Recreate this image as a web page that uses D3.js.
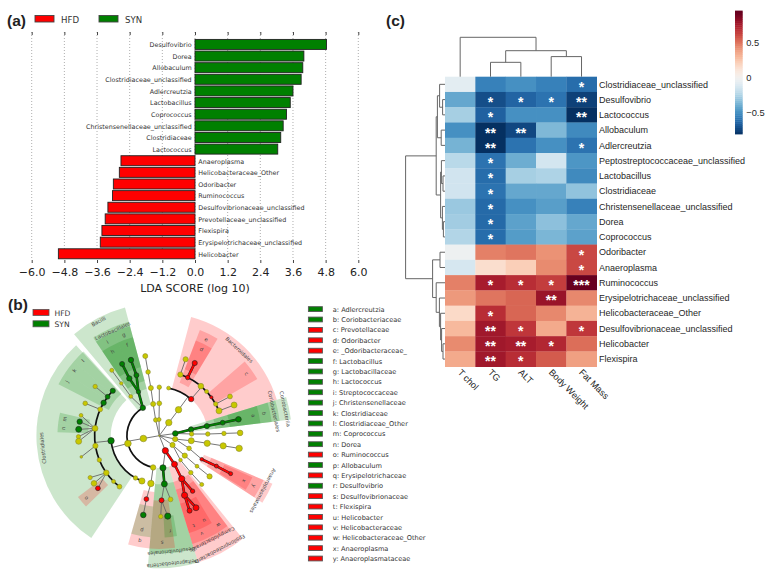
<!DOCTYPE html>
<html><head><meta charset="utf-8">
<script src="https://cdnjs.cloudflare.com/ajax/libs/d3/7.8.5/d3.min.js"></script>
<style>html,body{margin:0;padding:0;background:#fff}svg{display:block}</style>
</head><body><svg id="c" width="770" height="574"></svg>
<script>
// ---- panel (a)
const ldaNames=["Desulfovibrio","Dorea","Allobaculum","Clostridiaceae_unclassified","Adlercreutzia","Lactobacillus","Coprococcus","Christensenellaceae_unclassified","Clostridiaceae","Lactococcus","Anaeroplasma","Helicobacteraceae_Other","Odoribacter","Ruminococcus","Desulfovibrionaceae_unclassified","Prevotellaceae_unclassified","Flexispira","Erysipelotrichaceae_unclassified","Helicobacter"];
const ldaValues=[4.83,4.0,3.96,3.9,3.6,3.5,3.36,3.24,3.15,3.04,-2.72,-2.78,-3.0,-3.03,-3.2,-3.3,-3.42,-3.48,-5.02];
const ldaTicks=[-6,-4.8,-3.6,-2.4,-1.2,0,1.2,2.4,3.6,4.8,6];
// ---- panel (b) legend
const cladeLegend=[["a: Adlercreutzia","g"],["b: Coriobacteriaceae","g"],["c: Prevotellaceae","r"],["d: Odoribacter","r"],["e: _Odoribacteraceae_","r"],["f: Lactobacillus","g"],["g: Lactobacillaceae","g"],["h: Lactococcus","g"],["i: Streptococcaceae","g"],["j: Christensenellaceae","g"],["k: Clostridiaceae","g"],["l: Clostridiaceae_Other","g"],["m: Coprococcus","g"],["n: Dorea","g"],["o: Ruminococcus","r"],["p: Allobaculum","g"],["q: Erysipelotrichaceae","r"],["r: Desulfovibrio","g"],["s: Desulfovibrionaceae","r"],["t: Flexispira","r"],["u: Helicobacter","r"],["v: Helicobacteraceae","r"],["w: Helicobacteraceae_Other","r"],["x: Anaeroplasma","r"],["y: Anaeroplasmataceae","r"]];
// shaded clades: angle from, angle to (deg clockwise from north), level from, level to, class, letter
const cladeSectors=[
[213.6,317.4,3,7.6,"g",""],[320,345,2,8.2,"g",""],[326,345,3,7.3,"g",""],
[326,336,3.5,7,"g","i"],[336,345,3.5,7,"g","g"],[326,336,4.4,6.3,"g","h"],[336,345,4.4,6.3,"g","f"],
[297,304,3.5,7,"g","j"],[304,311,3.5,7,"g","k"],[311,318,3.5,7,"g","l"],
[277,283,4.4,6.3,"g","m"],[272,277,4.4,6.3,"g","n"],[226,233,4.4,6.3,"r","o"],
[185,196,3.5,7,"r","q"],[185,196,4.4,6.3,"g","p"],
[163,185,2,8.2,"g",""],[163,185,3,7.3,"g",""],[172,185,4,7,"r","s"],[170,177,5,6.3,"g","r"],
[141,163,2,8.2,"r",""],[143,163,3,7.3,"r",""],[150,163,3.5,7,"r","v"],[143,150,3.5,7,"r","w"],[155,163,4.4,6.3,"r","t"],[149,155,4.4,6.3,"r","u"],
[113,123,3,7.6,"r",""],[113,123,3.5,7,"r","y"],[114,122,4.4,6.3,"r","x"],
[15,73,3,7.6,"r",""],[49,60,4,7,"r","c"],[21,31,3.5,7,"r","e"],[21,31,4.4,6.3,"r","d"],
[73,83,2,8.2,"g",""],[73,83,3,7.5,"g",""],[73,83,3.5,7,"g","b"],[73,83,4.4,6.3,"g","a"]];
const cladeLabels=[["Bacilli",332,8],["Lactobacillales",336,7.1],["Clostridiales",264,7.25],["Bacteroidales",43,7.25],["Coriobacteriales",78,7.25],["Coriobacteriia",78,7.95],["Anaeroplasmatales",118,7.25],["Campylobacterales",153,7.2],["Epsilonproteobacteria",152,7.95],["Desulfovibrionales",174,7.2],["Deltaproteobacteria",174,7.95]];
// thick arcs joining siblings: level, angle from, angle to, parent id
const cladeArcs=[[2,191,329,"L1h"],[3,201,264,"k1"],[4,218,314,"k2"],[4,19,67.4,"c3"],[3,11,41,"c1"]];
// nodes: id, parent id, angle, level, class (y/r/g), size
const cladeNodes=[
["root",null,0,0,"y",.7],
["L1a","root",347,1,"y",2.2],["L1b","root",359,1,"y",2],["L1c","root",36,1,"y",3.2],["L1d","root",82,1,"g",2.8],["L1e","root",102,1,"y",2.6],["L1f","root",125,1,"y",2.6],["L1g","root",158,1,"r",3.1],["L1h","root",260,1,"y",3.3],
["a1","L1a",349,2,"y",2.5],["a2","a1",350,3,"y",2.5],["a3","a2",350,4,"y",2.3],["a4","a3",350,5,"y",2.5],
["b1","L1b",0,2,"y",2.4],["b2","b1",0,3,"y",2.2],
["c1","L1c",36.5,2,"y",3.2],["c2","c1",11,3,"y",1.9],["c3","c1",41,3,"r",2.7],
["c4","c3",19,4,"y",2.6],["c5","c3",26,4,"r",2.2],["c6","c3",40,4,"y",2.8],["c7","c3",47,4,"y",2],["c8","c3",53.6,4,"r",1.6],["c9","c3",60.7,4,"y",2.2],["c10","c3",67.4,4,"y",3],
["c11","c4",19,5,"y",2.6],["c12","c5",26,5,"r",2.6],["c13","c9",61,5,"y",2.4],["c14","c10",67.7,5,"y",3],
["d1","L1d",79,2,"g",2.7],["d2","d1",78.5,3,"g",2.6],["d3","d2",78.4,4,"g",2.4],["d4","d3",78.3,5,"g",2.8],
["e1","L1d",87,2,"y",2.2],["e2","e1",88,3,"y",2.2],["e3","e2",88,4,"y",2.2],["e4","e3",88,5,"y",2.8],
["f1","L1e",99,2,"y",3],["f2","f1",99,3,"y",3.1],["f3","f2",99,4,"y",3.1],["f4","f3",99,5,"y",3.2],
["f5","L1e",113,2,"y",2.3],["f6","f5",119,3,"r",1.8],["f7","f6",118,4,"r",2],["f8","f7",118,5,"r",2],
["g1","L1f",128,2,"y",2.6],["g2","g1",129,3,"y",1.9],["g3","g2",129,4,"y",2.6],
["g4","L1f",139,2,"y",1.8],["g5","g4",139.5,3,"y",2.2],["g6","g5",139,4,"y",2],
["h1","L1g",152,2,"r",3],["h2","h1",152.5,3,"r",3.1],["h3","h2",157,4,"r",3.1],["h4","h2",149,4,"r",2.2],["h5","h3",158,5,"r",2.5],["h6","h3",153,5,"r",3],
["i1","L1g",173.5,2,"g",3.1],["i2","i1",174,3,"g",3],["i3","i2",178,4,"r",2.5],["i4","i2",170,4,"y",2.4],["i5","i3",179,5,"y",2.2],["i6","i3",174,5,"g",3.1],
["j1","L1h",191,2,"y",2.7],["j2","j1",190,3,"y",3.2],["j3","j2",191.5,4,"r",2.4],["j4","j3",191.4,5,"g",2.8],
["k1","L1h",256,2,"y",3.3],["k2","k1",264,3,"g",3.2],["k3","k1",201,3,"y",3.1],["k4","k1",209.4,3,"y",2.2],
["m1","k2",300.6,4,"g",2.7],["m2","k2",294,4,"y",2.4],["m3","k2",307,4,"g",2.4],["m4","k2",314,4,"g",2.6],["m5","k2",276.5,4,"y",2.9],["m6","k2",261,4,"y",2.6],["m7","k2",248,4,"y",2.2],["m8","k2",235,4,"y",2.8],["m9","k2",225,4,"y",2],["m10","k2",218,4,"y",2.4],
["n1","m2",293.6,5,"y",2.3],["n2","m3",307.5,5,"y",2.2],
["n3","m5",284.6,5,"y",1.9],["n4","m5",280,5,"g",2.7],["n5","m5",274.5,5,"g",3],["n6","m5",269.3,5,"y",2.1],["n7","m5",266,5,"y",3],["n8","m6",254.8,5,"y",1.3],
["n9","m8",238.8,5,"y",2.1],["n10","m8",233.9,5,"y",2.8],["n11","m8",229.4,5,"r",2.4],
["p1","L1h",329.4,2,"g",2.7],["p2","p1",334.6,3,"g",2.2],["p3","p1",324,3,"y",1.9],["p4","p3",324,4,"y",1.7],["p5","p4",324,5,"y",2],
["p6","p2",332.4,4,"g",2.7],["p7","p2",339.3,4,"g",2.5],["p8","p6",332.6,5,"g",2.5],["p9","p7",339.5,5,"g",2.7]];
// ---- panel (c)
const heatRows=["Clostridiaceae_unclassified","Desulfovibrio","Lactococcus","Allobaculum","Adlercreutzia","Peptostreptococcaceae_unclassified","Lactobacillus","Clostridiaceae","Christensenellaceae_unclassified","Dorea","Coprococcus","Odoribacter","Anaeroplasma","Ruminococcus","Erysipelotrichaceae_unclassified","Helicobacteraceae_Other","Desulfovibrionaceae_unclassified","Helicobacter","Flexispira"];
const heatCols=["T chol","TG","ALT","Body Weight","Fat Mass"];
const heatValues=[
[-.08,-.55,-.50,-.55,-.62],[-.42,-.72,-.65,-.60,-.76],[-.27,-.66,-.50,-.50,-.81],[-.50,-.81,-.74,-.36,-.52],[-.38,-.81,-.60,-.50,-.60],
[-.22,-.60,-.40,-.14,-.48],[-.15,-.62,-.27,-.25,-.52],[-.15,-.60,-.42,-.42,-.32],[-.30,-.63,-.50,-.45,-.55],[-.28,-.63,-.44,-.33,-.42],[-.24,-.62,-.46,-.37,-.44],
[-.03,.47,.50,.42,.62],[-.13,.15,.22,.44,.62],[.47,.76,.70,.65,.93],[.40,.50,.54,.80,.45],[.17,.70,.54,.45,.32],[.30,.78,.67,.35,.67],[.44,.78,.76,.72,.52],[.35,.78,.70,.57,.38]];
const heatStars=[
["","","","","*"],["","*","*","*","**"],["","*","","","**"],["","**","**","",""],["","**","","","*"],
["","*","","",""],["","*","","",""],["","*","","",""],["","*","","",""],["","*","","",""],["","*","","",""],
["","","","","*"],["","","","","*"],["","*","*","*","***"],["","","","**",""],["","*","","",""],["","**","*","","*"],["","**","**","*",""],["","**","*","",""]];
const barTicks=[-.5,0,.5];
// dendrograms: [height, left, right], leaves are row / column indices
const rowTree=[1.97,
 [.44,
  [.38,[.27,0,[.12,1,2]],[.19,3,4]],
  [.22,[.18,5,[.1,6,7]],[.13,8,[.08,9,10]]]],
 [.62,
  [.25,11,12],
  [.44,13,[.28,14,[.22,15,[.17,16,[.1,17,18]]]]]]];
const colTree=[2,0,[1.32,[.73,1,2],[1.02,3,4]]];

const svg=d3.select("#c");
const sans="'DejaVu Sans'", arial="'Liberation Sans'";
const GREEN="#008000", RED="#ff0000";
const ink={g:GREEN,r:RED,y:"#c8c800"};

// panel letters
[["(a)",7,26],["(b)",8,310],["(c)",386,26]].forEach(([t,x,y])=>svg.append("text").attr("x",x).attr("y",y).attr("font-family",arial).attr("font-weight","bold").attr("font-size",15.5).attr("fill","#222").text(t));

// ====== (a)
(function(){
 const x=d3.scaleLinear().domain([-6,6]).range([31.7,358.3]);
 const y=d3.scaleBand().domain(ldaNames).range([38.6,259.6]).paddingInner(.14).paddingOuter(.07);
 const g=svg.append("g");
 g.selectAll("line.grid").data(ldaTicks).join("line").attr("x1",x).attr("x2",x).attr("y1",32).attr("y2",260).attr("stroke","#999").attr("stroke-width",.8).attr("stroke-dasharray","1 2");
 const ax=g.append("g").attr("transform","translate(0,260)").call(d3.axisBottom(x).tickValues(ldaTicks).tickSize(3).tickPadding(5.5).tickFormat(d=>d3.format(".1f")(d).replace("-","\u2212")));
 ax.select(".domain").remove();
 ax.selectAll("text").attr("font-family",sans).attr("font-size",11).attr("fill","#222");
 ax.selectAll("line").attr("stroke","#444");
 const top=g.append("g").attr("transform","translate(0,32)").call(d3.axisBottom(x).tickValues(ldaTicks).tickSize(3).tickFormat(""));
 top.select(".domain").remove(); top.selectAll("line").attr("stroke","#444");
 g.selectAll("rect.bar").data(ldaNames).join("rect").attr("class","bar")
  .attr("x",(d,i)=>x(Math.min(0,ldaValues[i]))).attr("width",(d,i)=>Math.abs(x(ldaValues[i])-x(0)))
  .attr("y",d=>y(d)).attr("height",y.bandwidth())
  .attr("fill",(d,i)=>ldaValues[i]>0?GREEN:RED).attr("stroke","#222").attr("stroke-width",.9);
 g.selectAll("text.lab").data(ldaNames).join("text").attr("class","lab")
  .attr("x",(d,i)=>x(0)+(ldaValues[i]>0?-3.3:3.3)).attr("y",d=>y(d)+y.bandwidth()/2+2.8)
  .attr("text-anchor",(d,i)=>ldaValues[i]>0?"end":"start")
  .attr("font-family",sans).attr("font-size",6.4).attr("fill","#333").text(d=>d);
 g.append("text").attr("x",195).attr("y",292).attr("text-anchor","middle").attr("font-family",sans).attr("font-size",11).attr("fill","#222").text("LDA SCORE (log 10)");
 [["HFD",RED,35,61],["SYN",GREEN,99,125]].forEach(([t,c,a,b])=>{
  g.append("rect").attr("x",a).attr("y",15.5).attr("width",19).attr("height",6.5).attr("fill",c).attr("stroke","#444").attr("stroke-width",.9);
  g.append("text").attr("x",b).attr("y",22.5).attr("font-family",sans).attr("font-size",8.6).attr("fill","#333").text(t);
 });
})();

// ====== (b)
(function(){
 const cx=159.3,cy=435.7;
 const r=d3.scaleLinear().domain([0,1]).range([0,16.17]);
 const rad=d3.scaleLinear().domain([0,360]).range([0,2*Math.PI]);
 const g=svg.append("g").attr("transform",`translate(${cx},${cy})`);
 const arc=d3.arc();
 g.selectAll("path.sec").data(cladeSectors).join("path").attr("class","sec")
  .attr("d",d=>arc({startAngle:rad(d[0]),endAngle:rad(d[1]),innerRadius:r(d[2]),outerRadius:r(d[3])}))
  .attr("fill",d=>ink[d[4]]).attr("fill-opacity",.2);
 g.selectAll("text.let").data(cladeSectors.filter(d=>d[5])).join("text").attr("class","let")
  .attr("transform",d=>{const [px,py]=d3.pointRadial(rad((d[0]+d[1])/2),r(d[3]>6.5?6.62:5.95));return `translate(${px},${py}) rotate(${(d[0]+d[1])/2})`;})
  .attr("text-anchor","middle").attr("dy","0.35em").attr("font-family",sans).attr("font-size",5.2).attr("fill","#444").text(d=>d[5]);
 g.selectAll("text.cl").data(cladeLabels).join("text").attr("class","cl")
  .attr("transform",d=>{const [px,py]=d3.pointRadial(rad(d[1]),r(d[2]));return `translate(${px},${py}) rotate(${d[1]})`;})
  .attr("text-anchor","middle").attr("dy","0.35em").attr("font-family",sans).attr("font-size",5.2).attr("fill","#444").text(d=>d[0]);
 const byId=new Map(cladeNodes.map(d=>[d[0],d]));
 const arcParents=new Set(cladeArcs.map(d=>d[3]));
 const pos=d=>d3.pointRadial(rad(d[2]),r(d[3]));
 const edges=cladeNodes.filter(d=>d[1]&&!arcParents.has(d[1]));
 const colored=d=>d[4]!=="y"&&byId.get(d[1])[4]===d[4];
 g.selectAll("line.e").data(edges).join("line").attr("class","e")
  .attr("x1",d=>pos(d)[0]).attr("y1",d=>pos(d)[1]).attr("x2",d=>pos(byId.get(d[1]))[0]).attr("y2",d=>pos(byId.get(d[1]))[1])
  .attr("stroke",d=>colored(d)?"#222":"#666").attr("stroke-width",d=>colored(d)?2.6:.9);
 g.selectAll("line.c").data(edges.filter(colored)).join("line").attr("class","c")
  .attr("x1",d=>pos(d)[0]).attr("y1",d=>pos(d)[1]).attr("x2",d=>pos(byId.get(d[1]))[0]).attr("y2",d=>pos(byId.get(d[1]))[1])
  .attr("stroke",d=>ink[d[4]]).attr("stroke-width",1.8);
 // stems from a parent out to the arc of its children
 g.selectAll("line.s").data(cladeArcs).join("line").attr("class","s")
  .attr("x1",d=>pos(byId.get(d[3]))[0]).attr("y1",d=>pos(byId.get(d[3]))[1])
  .attr("x2",d=>d3.pointRadial(rad(byId.get(d[3])[2]),r(d[0]))[0]).attr("y2",d=>d3.pointRadial(rad(byId.get(d[3])[2]),r(d[0]))[1])
  .attr("stroke","#666").attr("stroke-width",.9);
 g.selectAll("path.ar").data(cladeArcs).join("path").attr("class","ar")
  .attr("d",d=>arc({startAngle:rad(d[1]),endAngle:rad(d[2]),innerRadius:r(d[0])-.85,outerRadius:r(d[0])+.85}))
  .attr("fill","#111");
 g.selectAll("circle").data(cladeNodes).join("circle")
  .attr("cx",d=>pos(d)[0]).attr("cy",d=>pos(d)[1]).attr("r",d=>d[5])
  .attr("fill",d=>ink[d[4]]).attr("stroke",d=>d[4]==="y"?"#8a8a30":"#222").attr("stroke-width",.6);
 // legend
 [["HFD",RED,309.4],["SYN",GREEN,320.8]].forEach(([t,c,yy])=>{
  svg.append("rect").attr("x",33).attr("y",yy).attr("width",16).attr("height",6).attr("fill",c).attr("stroke","#555").attr("stroke-width",.8);
  svg.append("text").attr("x",54.5).attr("y",yy+6.2).attr("font-family",sans).attr("font-size",7.6).attr("fill","#333").text(t);
 });
 const ly=d3.scaleBand().domain(cladeLegend.map(d=>d[0])).range([303.9,563.7]);
 svg.selectAll("rect.lk").data(cladeLegend).join("rect").attr("class","lk")
  .attr("x",308.4).attr("width",14).attr("y",d=>ly(d[0])+ly.step()/2-2.4).attr("height",4.8)
  .attr("fill",d=>ink[d[1]]).attr("stroke","#555").attr("stroke-width",.9);
 svg.selectAll("text.lt").data(cladeLegend).join("text").attr("class","lt")
  .attr("x",332.8).attr("y",d=>ly(d[0])+ly.step()/2+2.6).attr("font-family",sans).attr("font-size",6.6).attr("fill","#333").text(d=>d[0]);
})();

// ====== (c)
(function(){
 const x=d3.scaleBand().domain(heatCols).range([445,596.7]);
 const y=d3.scaleBand().domain(heatRows).range([76.7,366.7]);
 const tone=d3.scaleLinear().domain([-.81,0,.93]).range([0,.5,1]);
 const col=v=>d3.interpolateRdBu(1-tone(v));
 const g=svg.append("g");
 heatRows.forEach((rn,i)=>heatCols.forEach((cn,j)=>{
  g.append("rect").attr("x",x(cn)).attr("y",y(rn)).attr("width",x.bandwidth()+.3).attr("height",y.bandwidth()+.3).attr("fill",col(heatValues[i][j]));
  if(heatStars[i][j]) g.append("text").attr("x",x(cn)+x.bandwidth()/2).attr("y",y(rn)+y.bandwidth()/2+7.4).attr("text-anchor","middle").attr("font-family",arial).attr("font-weight","bold").attr("font-size",14).attr("fill","#fff").text(heatStars[i][j]);
 }));
 g.selectAll("text.rl").data(heatRows).join("text").attr("class","rl").attr("x",599).attr("y",d=>y(d)+y.bandwidth()/2+3.2)
  .attr("font-family",arial).attr("font-size",9).attr("fill","#262626").text(d=>d);
 g.selectAll("text.cl2").data(heatCols).join("text").attr("class","cl2")
  .attr("transform",d=>`translate(${x(d)+x.bandwidth()/2-3},373) rotate(45)`)
  .attr("font-family",arial).attr("font-size",9.2).attr("fill","#262626").text(d=>d);
 // dendrograms
 const hRow=d3.scaleLinear().domain([0,2]).range([445,405]);
 const hCol=d3.scaleLinear().domain([0,2]).range([76.7,37.3]);
 const seg=(x1,y1,x2,y2)=>g.append("line").attr("x1",x1).attr("y1",y1).attr("x2",x2).attr("y2",y2).attr("stroke","#666").attr("stroke-width",1);
 (function walk(n){
  if(typeof n==="number") return {p:y(heatRows[n])+y.bandwidth()/2,h:0};
  const a=walk(n[1]),b=walk(n[2]),X=hRow(n[0]);
  seg(X,a.p,hRow(a.h),a.p);seg(X,b.p,hRow(b.h),b.p);seg(X,a.p,X,b.p);
  return {p:(a.p+b.p)/2,h:n[0]};
 })(rowTree);
 (function walk(n){
  if(typeof n==="number") return {p:x(heatCols[n])+x.bandwidth()/2,h:0};
  const a=walk(n[1]),b=walk(n[2]),Y=hCol(n[0]);
  seg(a.p,Y,a.p,hCol(a.h));seg(b.p,Y,b.p,hCol(b.h));seg(a.p,Y,b.p,Y);
  return {p:(a.p+b.p)/2,h:n[0]};
 })(colTree);
 // colour bar
 const cb=d3.scaleLinear().domain([-.81,.93]).range([134,12.7]);
 const bands=d3.range(-.81,.93,.03);
 g.selectAll("rect.cb").data(bands).join("rect").attr("class","cb").attr("x",735).attr("width",7.7)
  .attr("y",d=>cb(d+.03)).attr("height",d=>cb(d)-cb(d+.03)+.4).attr("fill",d=>col(d+.015));
 const ax=g.append("g").attr("transform","translate(742.7,0)").call(d3.axisRight(cb).tickValues(barTicks).tickSize(0).tickPadding(3.5).tickFormat(d=>d===0?"0":String(d).replace("-","\u2212")));
 ax.select(".domain").remove();
 ax.selectAll("text").attr("font-family",arial).attr("font-size",9.3).attr("fill","#262626");
})();
</script></body></html>
